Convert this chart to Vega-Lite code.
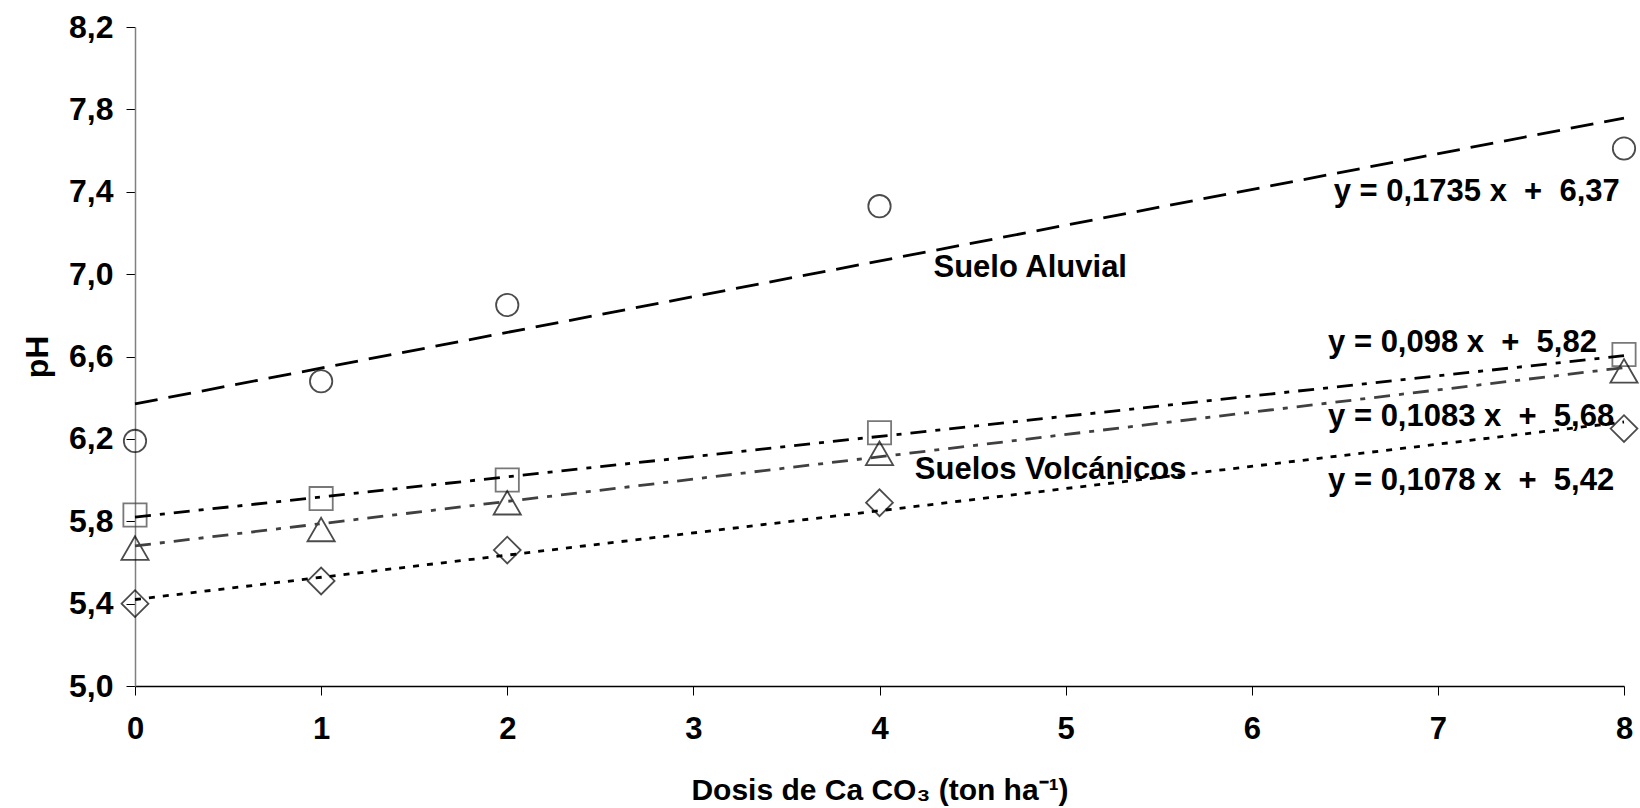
{
  "$schema": "https://vega.github.io/schema/vega-lite/v6.json",
  "width": 1489,
  "height": 659,
  "autosize": {"type": "none"},
  "padding": {"left": 135, "top": 27, "right": 16, "bottom": 122},
  "background": "white",
  "config": {
    "view": {"stroke": null},
    "font": "Liberation Sans",
    "text": {"font": "Liberation Sans"}
  },
  "datasets": {
    "points": [
      {"serie": "Aluvial", "dosis": 0, "pH": 6.19},
      {"serie": "Aluvial", "dosis": 1, "pH": 6.48},
      {"serie": "Aluvial", "dosis": 2, "pH": 6.85},
      {"serie": "Aluvial", "dosis": 4, "pH": 7.33},
      {"serie": "Aluvial", "dosis": 8, "pH": 7.61},
      {"serie": "Volc1", "dosis": 0, "pH": 5.83},
      {"serie": "Volc1", "dosis": 1, "pH": 5.91},
      {"serie": "Volc1", "dosis": 2, "pH": 6.0},
      {"serie": "Volc1", "dosis": 4, "pH": 6.23},
      {"serie": "Volc1", "dosis": 8, "pH": 6.61},
      {"serie": "Volc2", "dosis": 0, "pH": 5.67},
      {"serie": "Volc2", "dosis": 1, "pH": 5.76},
      {"serie": "Volc2", "dosis": 2, "pH": 5.89},
      {"serie": "Volc2", "dosis": 4, "pH": 6.13},
      {"serie": "Volc2", "dosis": 8, "pH": 6.53},
      {"serie": "Volc3", "dosis": 0, "pH": 5.4},
      {"serie": "Volc3", "dosis": 1, "pH": 5.51},
      {"serie": "Volc3", "dosis": 2, "pH": 5.66},
      {"serie": "Volc3", "dosis": 4, "pH": 5.89},
      {"serie": "Volc3", "dosis": 8, "pH": 6.25}
    ],
    "trends": [
      {"serie": "Aluvial", "dosis": 0, "pH": 6.37},
      {"serie": "Aluvial", "dosis": 8, "pH": 7.758},
      {"serie": "Volc1", "dosis": 0, "pH": 5.82},
      {"serie": "Volc1", "dosis": 8, "pH": 6.604},
      {"serie": "Volc2", "dosis": 0, "pH": 5.68},
      {"serie": "Volc2", "dosis": 8, "pH": 6.546},
      {"serie": "Volc3", "dosis": 0, "pH": 5.42},
      {"serie": "Volc3", "dosis": 8, "pH": 6.282}
    ],
    "labels": [
      {"texto": "Suelo Aluvial", "dosis": 4.29, "pH": 7.03},
      {"texto": "Suelos Volcánicos", "dosis": 4.19, "pH": 6.05},
      {"texto": "y = 0,1735 x\u00a0 +\u00a0 6,37", "dosis": 6.44, "pH": 7.4},
      {"texto": "y = 0,098 x\u00a0 +\u00a0 5,82", "dosis": 6.41, "pH": 6.666},
      {"texto": "y = 0,1083 x\u00a0 +\u00a0 5,68", "dosis": 6.41, "pH": 6.306},
      {"texto": "y = 0,1078 x\u00a0 +\u00a0 5,42", "dosis": 6.41, "pH": 5.996}
    ]
  },
  "encoding": {
    "x": {
      "field": "dosis",
      "type": "quantitative",
      "scale": {"domain": [0, 8], "nice": false, "zero": false},
      "axis": {
        "title": "Dosis de Ca CO₃ (ton ha⁻¹)",
        "values": [0, 1, 2, 3, 4, 5, 6, 7, 8],
        "grid": false,
        "domainColor": "#000000",
        "domainWidth": 1.5,
        "tickColor": "#000000",
        "tickWidth": 1,
        "tickSize": 9,
        "labelFont": "Liberation Sans",
        "labelFontWeight": "bold",
        "labelFontSize": 31,
        "labelColor": "#000000",
        "labelPadding": 19,
        "labelFlush": false,
        "titleFont": "Liberation Sans",
        "titleFontWeight": "bold",
        "titleFontSize": 30,
        "titleColor": "#000000",
        "titlePadding": 31
      }
    },
    "y": {
      "field": "pH",
      "type": "quantitative",
      "scale": {"domain": [5.0, 8.2], "nice": false, "zero": false},
      "axis": {
        "title": "pH",
        "values": [5.0, 5.4, 5.8, 6.2, 6.6, 7.0, 7.4, 7.8, 8.2],
        "labelExpr": "replace(format(datum.value, '.1f'), '.', ',')",
        "grid": false,
        "domainColor": "#808080",
        "domainWidth": 1.5,
        "tickColor": "#000000",
        "tickWidth": 1,
        "tickSize": 9,
        "labelFont": "Liberation Sans",
        "labelFontWeight": "bold",
        "labelFontSize": 32,
        "labelColor": "#000000",
        "labelPadding": 13,
        "labelFlush": false,
        "titleFont": "Liberation Sans",
        "titleFontWeight": "bold",
        "titleFontSize": 32,
        "titleColor": "#000000",
        "titlePadding": 14
      }
    }
  },
  "layer": [
    {
      "data": {"name": "points"},
      "transform": [{"filter": "datum.serie === 'Aluvial'"}],
      "mark": {"type": "point", "shape": "circle", "filled": false, "stroke": "#000000", "strokeWidth": 1.8, "size": 500, "clip": false}
    },
    {
      "data": {"name": "points"},
      "transform": [{"filter": "datum.serie === 'Volc1'"}],
      "mark": {"type": "point", "shape": "square", "filled": false, "stroke": "#404040", "strokeWidth": 1.8, "size": 540, "clip": false}
    },
    {
      "data": {"name": "points"},
      "transform": [{"filter": "datum.serie === 'Volc2'"}],
      "mark": {"type": "point", "shape": "triangle-up", "filled": false, "stroke": "#000000", "strokeWidth": 1.8, "size": 740, "clip": false}
    },
    {
      "data": {"name": "points"},
      "transform": [{"filter": "datum.serie === 'Volc3'"}],
      "mark": {"type": "point", "shape": "diamond", "filled": false, "stroke": "#000000", "strokeWidth": 1.8, "size": 720, "clip": false}
    },
    {
      "data": {"name": "trends"},
      "transform": [{"filter": "datum.serie === 'Aluvial'"}],
      "mark": {"type": "line", "color": "#000000", "strokeWidth": 2.8, "strokeDash": [23, 11]}
    },
    {
      "data": {"name": "trends"},
      "transform": [{"filter": "datum.serie === 'Volc1'"}],
      "mark": {"type": "line", "color": "#000000", "strokeWidth": 2.8, "strokeDash": [16, 9, 5, 9]}
    },
    {
      "data": {"name": "trends"},
      "transform": [{"filter": "datum.serie === 'Volc2'"}],
      "mark": {"type": "line", "color": "#404040", "strokeWidth": 2.8, "strokeDash": [16, 9, 5, 9]}
    },
    {
      "data": {"name": "trends"},
      "transform": [{"filter": "datum.serie === 'Volc3'"}],
      "mark": {"type": "line", "color": "#000000", "strokeWidth": 2.8, "strokeDash": [6, 8]}
    },
    {
      "data": {"name": "labels"},
      "mark": {"type": "text", "align": "left", "baseline": "middle", "font": "Liberation Sans", "fontWeight": "bold", "fontSize": 31, "color": "#000000"},
      "encoding": {"text": {"field": "texto", "type": "nominal"}}
    }
  ]
}
